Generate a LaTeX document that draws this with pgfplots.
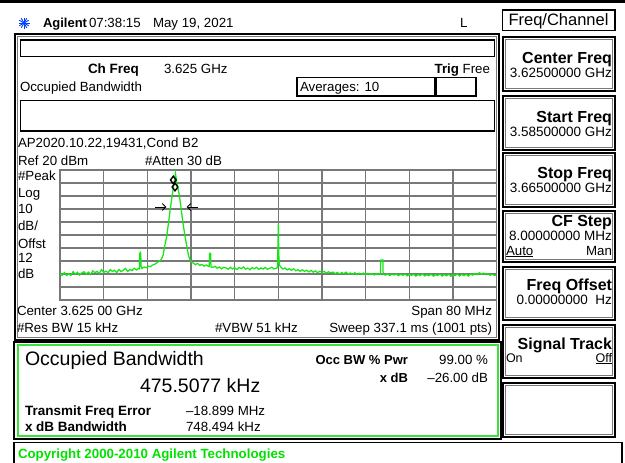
\documentclass[border=0pt]{standalone}
\usepackage{pgfplots}
\pgfplotsset{compat=1.18}
\usetikzlibrary{arrows.meta}
\usepackage{fontspec}
\setmainfont{Liberation Sans}
\definecolor{trgreen}{RGB}{20,232,20}
\definecolor{txgreen}{RGB}{0,225,0}
\definecolor{bxgreen}{RGB}{60,225,60}
\definecolor{grd}{RGB}{120,120,120}
\newcommand\fs[1]{\fontsize{#1}{#1}\selectfont}
\begin{document}
\begin{tikzpicture}[x=1pt,y=1pt,every node/.style={inner sep=0pt,outer sep=0pt}]
\path[use as bounding box] (0,0) rectangle (625,-463);
% top bar
\fill[black] (0,0) rectangle (625,-3);
% logo
\foreach \a in {0,30,...,330} \draw[blue!75!cyan, line width=0.9pt] (24,-23) -- ++(\a:5.5);
\node[anchor=base west] at (43,-27.5) {\fs{13}\bfseries Agilent};
\node[anchor=base west] at (89,-27.5) {\fs{13.3}07:38:15};
\node[anchor=base west] at (153,-27.5) {\fs{13.3}May 19, 2021};
\node[anchor=base west] at (460,-27.5) {\fs{13.3}L};
% main left frame
\draw[black, line width=2pt] (14.5,-33.5) rectangle (499,-339.5);
\draw[grd, line width=0.7pt] (17,-36) rectangle (496.5,-337);
% top empty boxes
\draw[black, line width=1.8pt] (20.5,-40) rectangle (494.5,-56.5);
\draw[black, line width=1.8pt] (20.5,-100.5) rectangle (494.5,-131);
\node[anchor=base west] at (88,-73) {\fs{13.5}\bfseries Ch Freq};
\node[anchor=base west] at (164,-73) {\fs{13.3}3.625 GHz};
\node[anchor=base east] at (459,-73) {\fs{13.3}\bfseries Trig};
\node[anchor=base east] at (490,-73) {\fs{13.3}Free};
\node[anchor=base west] at (20,-91) {\fs{13.3}Occupied Bandwidth};
\draw[black, line width=1.5pt] (297,-77.5) rectangle (476,-96);
\draw[black, line width=3pt] (435,-77.5) -- (435,-96);
\node[anchor=base west] at (300,-91) {\fs{13.3}Averages: 10};
\node[anchor=base west] at (18,-147) {\fs{13.3}AP2020.10.22,19431,Cond B2};
\node[anchor=base west] at (18,-165) {\fs{13.3}Ref 20 dBm};
\node[anchor=base west] at (145,-165) {\fs{13.3}\#Atten 30 dB};
\node[anchor=base west] at (18,-180) {\fs{13.3}\#Peak};
\node[anchor=base west] at (18,-197) {\fs{13.3}Log};
\node[anchor=base west] at (18,-213) {\fs{13.3}10};
\node[anchor=base west] at (18,-230) {\fs{13.3}dB/};
\node[anchor=base west] at (18,-248) {\fs{13.3}Offst};
\node[anchor=base west] at (18,-262) {\fs{13.3}12};
\node[anchor=base west] at (18,-278) {\fs{13.3}dB};
\node[anchor=base west] at (17,-315) {\fs{13.3}Center 3.625 00 GHz};
\node[anchor=base east] at (492,-315) {\fs{13.3}Span 80 MHz};
\node[anchor=base west] at (17,-332) {\fs{13.3}\#Res BW 15 kHz};
\node[anchor=base west] at (215,-332) {\fs{13.3}\#VBW 51 kHz};
\node[anchor=base east] at (492,-332) {\fs{13.3}Sweep 337.1 ms (1001 pts)};
% spectrum
\begin{axis}[at={(60pt,-300pt)}, anchor=south west, scale only axis,
  width=436.7pt, height=130pt, xmin=-40, xmax=40, ymin=-80, ymax=20,
  xtick={-40,-32,...,40}, ytick={-80,-70,...,20},
  xticklabels={}, yticklabels={}, major tick length=0pt,
  grid=major, grid style={grd, line width=1.1pt},
  axis line style={grd, line width=1.1pt}, axis background/.style={fill=white}]
\addplot[trgreen, line width=1.25pt] coordinates {
(-40.0,-59.7)(-39.6,-61.0)(-39.2,-58.9)(-38.8,-61.2)(-38.4,-59.8)(-38.0,-61.1)
(-37.6,-58.2)(-37.2,-60.1)(-36.8,-58.7)(-36.4,-60.8)(-36.0,-59.2)(-35.6,-58.2)
(-35.2,-60.0)(-34.8,-58.6)(-34.4,-60.4)(-34.0,-57.6)(-33.6,-59.0)(-33.2,-57.9)
(-32.8,-59.6)(-32.4,-56.6)(-32.0,-58.8)(-31.6,-57.8)(-31.2,-59.0)(-30.8,-56.6)
(-30.4,-58.0)(-30.0,-57.1)(-29.6,-59.0)(-29.2,-56.5)(-28.8,-58.1)(-28.4,-57.1)
(-28.0,-55.7)(-27.6,-58.1)(-27.2,-56.5)(-26.8,-57.4)(-26.4,-55.6)(-26.0,-56.9)
(-25.6,-55.7)(-25.45,-56.0)(-25.4,-44.5)(-25.3,-43.5)(-25.2,-44.5)(-25.15,-54.0)
(-25.0,-55.8)(-24.6,-54.6)(-24.2,-55.2)(-23.8,-53.9)(-23.4,-54.3)(-23.0,-53.0)
(-22.6,-52.4)(-22.2,-51.2)(-21.9,-50.3)(-21.6,-49.5)(-21.3,-47.5)(-21.1,-45.5)
(-20.8,-38.0)(-20.45,-31.0)(-20.1,-20.0)(-19.8,-10.0)(-19.43,0.8)(-19.1,10.0)
(-18.85,17.5)(-18.6,10.0)(-18.14,0.8)(-17.8,-10.0)(-17.5,-20.0)(-17.1,-31.0)
(-16.7,-40.0)(-16.5,-45.0)(-16.3,-48.0)(-16.0,-50.5)(-15.6,-51.6)(-15.2,-52.8)
(-14.8,-51.9)(-14.4,-53.4)(-14.0,-52.6)(-13.6,-54.0)(-13.2,-53.1)(-12.8,-54.2)
(-12.65,-54.0)(-12.6,-44.5)(-12.5,-44.0)(-12.4,-44.5)(-12.35,-54.5)(-12.0,-55.0)
(-11.6,-54.0)(-11.2,-55.6)(-10.8,-54.6)(-10.4,-56.0)(-10.0,-54.9)(-9.6,-55.3)
(-9.2,-56.4)(-8.8,-54.8)(-8.4,-56.1)(-8.0,-55.2)(-7.6,-56.6)(-7.2,-55.0)
(-6.8,-55.9)(-6.4,-54.6)(-6.0,-56.3)(-5.6,-55.4)(-5.2,-56.8)(-4.8,-55.1)
(-4.4,-56.0)(-4.0,-54.9)(-3.6,-56.5)(-3.2,-55.3)(-2.8,-56.2)(-2.4,-55.0)
(-2.0,-56.4)(-1.6,-55.6)(-1.2,-54.8)(-0.8,-56.1)(-0.4,-55.5)(-0.15,-55.2)
(-0.08,-40.0)(0.0,-21.5)(0.08,-45.0)(0.2,-53.0)(0.4,-54.5)(0.8,-56.2)
(1.2,-55.4)(1.6,-56.8)(2.0,-55.9)(2.4,-57.2)(2.8,-56.0)(3.2,-57.5)
(3.6,-56.6)(4.0,-57.9)(4.4,-56.8)(4.8,-58.0)(5.2,-57.1)(5.6,-58.4)
(6.0,-57.2)(6.4,-58.6)(6.8,-57.6)(7.2,-59.0)(7.6,-57.9)(8.0,-58.8)
(8.4,-58.0)(8.8,-59.4)(9.2,-58.3)(9.6,-59.1)(10.0,-58.5)(10.4,-59.8)
(10.8,-58.7)(11.2,-60.0)(11.6,-58.9)(12.0,-59.7)(12.4,-58.6)(12.8,-60.2)
(13.2,-59.2)(13.6,-60.3)(14.0,-59.0)(14.4,-60.5)(14.8,-59.4)(15.2,-60.1)
(15.6,-59.3)(16.0,-60.6)(16.4,-59.5)(16.8,-60.4)(17.2,-59.6)(17.6,-60.8)
(18.0,-59.7)(18.4,-60.5)(18.7,-59.9)(18.75,-49.2)(19.15,-49.2)(19.2,-60.0)
(19.6,-60.9)(20.0,-59.8)(20.4,-61.2)(20.8,-60.1)(21.2,-60.8)(21.6,-59.9)
(22.0,-61.3)(22.4,-60.2)(22.8,-61.0)(23.2,-60.0)(23.6,-61.4)(24.0,-60.3)
(24.4,-61.1)(24.8,-60.2)(25.2,-61.6)(25.6,-60.4)(26.0,-61.2)(26.4,-59.8)
(26.8,-61.5)(27.2,-60.6)(27.6,-61.3)(28.0,-60.1)(28.4,-61.7)(28.8,-60.5)
(29.2,-61.2)(29.6,-60.0)(30.0,-61.6)(30.4,-60.4)(30.8,-61.4)(31.2,-60.2)
(31.6,-61.8)(32.0,-60.6)(32.4,-61.1)(32.8,-59.9)(33.2,-61.5)(33.6,-60.3)
(34.0,-61.2)(34.4,-60.1)(34.8,-61.6)(35.2,-60.0)(35.6,-60.9)(36.0,-59.6)
(36.4,-60.6)(36.8,-59.0)(37.2,-60.2)(37.6,-59.3)(38.0,-60.4)(38.4,-59.8)
(38.8,-61.0)(39.2,-60.2)(39.6,-61.1)(40.0,-60.6)
};
\addplot[only marks, mark=diamond, mark size=3.8pt, black, line width=1.4pt]
  coordinates {(-19.24,12.3)(-18.93,6.9)};
\draw[-{Straight Barb[length=3.5pt,width=7pt]}, black, line width=0.9pt] (axis cs:-22.6,-8.5) -- (axis cs:-20.5,-8.5);
\draw[-{Straight Barb[length=3.5pt,width=7pt]}, black, line width=0.9pt] (axis cs:-14.7,-8.5) -- (axis cs:-16.8,-8.5);
\end{axis}
% lower OBW box
\draw[black, line width=2pt] (14,-341.5) rectangle (501,-439);
\draw[bxgreen, line width=2pt] (17.5,-344.5) rectangle (497.5,-435.5);
\node[anchor=base west] at (25,-365) {\fs{19.5}Occupied Bandwidth};
\node[anchor=base west] at (140,-392) {\fs{19.5}475.5077 kHz};
\node[anchor=base east] at (408,-364) {\fs{13}\bfseries Occ BW \% Pwr};
\node[anchor=base east] at (488,-364) {\fs{13.3}99.00 \%};
\node[anchor=base east] at (408,-382.5) {\fs{13}\bfseries x dB};
\node[anchor=base east] at (488,-382.5) {\fs{13.3}–26.00 dB};
\node[anchor=base west] at (25,-415) {\fs{13.5}\bfseries Transmit Freq Error};
\node[anchor=base west] at (186,-415) {\fs{13.3}–18.899 MHz};
\node[anchor=base west] at (25,-431.5) {\fs{13.5}\bfseries x dB Bandwidth};
\node[anchor=base west] at (186,-431.5) {\fs{13.3}748.494 kHz};
% copyright
\draw[black, line width=1.6pt] (14,-442.5) rectangle (622,-464);
\node[anchor=base west, text=txgreen] at (18,-458) {\fs{13.3}\bfseries Copyright 2000-2010 Agilent Technologies};
% softkeys
\draw[black, line width=1.6pt] (502.5,-10) rectangle (615,-30.5);
\node[anchor=base] at (558.5,-26) {\fs{16.5}Freq/Channel};
\foreach \t/\b in {37/91,96/150,153/207,211/262,267/320,325/378,383/437}{
  \draw[black, line width=2pt] (503,-\t) rectangle (615,-\b);
  \draw[grd, line width=0.6pt] (505.5,-\t-2.5) rectangle (612.5,-\b+2.5);
}
\node[anchor=base east] at (612,-63.5) {\fs{16}\bfseries Center Freq};
\node[anchor=base east] at (612,-77) {\fs{13.5}3.62500000 GHz};
\node[anchor=base east] at (612,-122) {\fs{16}\bfseries Start Freq};
\node[anchor=base east] at (612,-136) {\fs{13.5}3.58500000 GHz};
\node[anchor=base east] at (612,-178) {\fs{16}\bfseries Stop Freq};
\node[anchor=base east] at (612,-192) {\fs{13.5}3.66500000 GHz};
\node[anchor=base east] at (612,-226) {\fs{16}\bfseries CF Step};
\node[anchor=base east] at (612,-240) {\fs{13.5}8.00000000 MHz};
\node[anchor=base west] at (506,-255) {\fs{13.3}\underline{Auto}};
\node[anchor=base east] at (612,-255) {\fs{13.3}Man};
\node[anchor=base east] at (612,-290) {\fs{16}\bfseries Freq Offset};
\node[anchor=base east] at (612,-304) {\fs{13.5}0.00000000~~Hz};
\node[anchor=base east] at (612,-349) {\fs{16}\bfseries Signal Track};
\node[anchor=base west] at (506,-362) {\fs{12.5}On};
\node[anchor=base east] at (612,-362) {\fs{12.5}\underline{Off}};
\end{tikzpicture}
\end{document}
